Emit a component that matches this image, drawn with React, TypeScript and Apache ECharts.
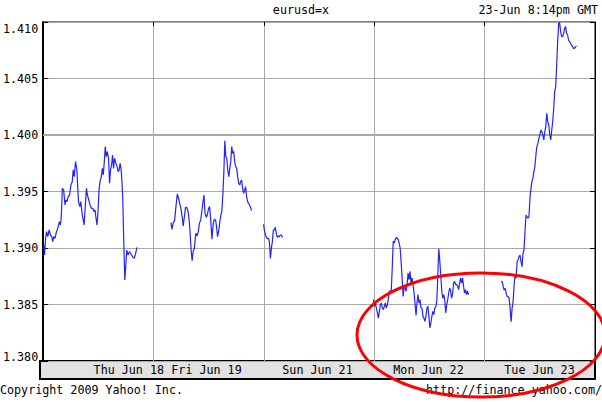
import React, { useEffect, useRef } from "react";
import * as echarts from "echarts";

// hours since start of chart (Thu 00:00 of plotted span), 24h per grid column
const thuHours = [0.14,0.29,0.57,0.72,1.00,1.29,1.58,1.87,2.08,2.30,2.58,2.80,3.16,3.52,3.73,3.88,4.02,4.16,4.45,4.74,4.95,5.17,5.46,5.74,6.03,6.32,6.53,6.75,7.04,7.33,7.47,7.68,7.97,8.19,8.40,8.69,8.90,9.12,9.41,9.62,9.91,10.20,10.48,10.77,11.06,11.27,11.49,11.70,11.92,12.14,12.35,12.64,12.85,13.07,13.29,13.50,13.72,13.93,14.22,14.43,14.65,14.87,15.08,15.30,15.51,15.80,16.09,16.30,16.52,16.73,16.95,17.16,17.31,17.52,17.74,17.95,18.17,18.46,18.74,18.96,19.25,19.53,19.82,20.11,20.40];
const thuRates = [1.39027,1.38938,1.39100,1.39145,1.39100,1.39160,1.39115,1.39100,1.39056,1.39100,1.39086,1.39130,1.39174,1.39233,1.39204,1.39248,1.39351,1.39528,1.39514,1.39381,1.39425,1.39410,1.39455,1.39469,1.39558,1.39587,1.39691,1.39632,1.39764,1.39691,1.39573,1.39410,1.39366,1.39410,1.39322,1.39248,1.39204,1.39351,1.39528,1.39469,1.39425,1.39381,1.39351,1.39351,1.39322,1.39337,1.39263,1.39204,1.39322,1.39514,1.39587,1.39632,1.39705,1.39646,1.39764,1.39897,1.39808,1.39853,1.39794,1.39573,1.39691,1.39735,1.39823,1.39705,1.39794,1.39750,1.39720,1.39676,1.39691,1.39750,1.39691,1.39573,1.39425,1.39071,1.38717,1.38835,1.38982,1.38938,1.38968,1.38953,1.38938,1.38918,1.38909,1.38953,1.39006];

const friHours = [27.79,28.01,28.29,28.58,28.87,29.16,29.44,29.73,29.95,30.23,30.45,30.66,30.95,31.24,31.53,31.74,31.96,32.17,32.39,32.60,32.89,33.18,33.47,33.75,33.97,34.26,34.54,34.76,34.97,35.19,35.48,35.69,35.98,36.19,36.41,36.70,36.98,37.20,37.49,37.70,37.92,38.20,38.42,38.64,38.85,39.07,39.28,39.50,39.71,39.93,40.14,40.36,40.57,40.79,41.00,41.22,41.44,41.65,41.87,42.08,42.30,42.51,42.73,42.94,43.16,43.37,43.59,43.81,44.02,44.24,44.45,44.67,44.88,45.10,45.31];
const friRates = [1.39224,1.39165,1.39224,1.39242,1.39366,1.39478,1.39439,1.39389,1.39351,1.39271,1.39195,1.39262,1.39360,1.39357,1.39321,1.39248,1.39130,1.38982,1.38888,1.38968,1.38997,1.39130,1.39106,1.39145,1.39218,1.39248,1.39336,1.39410,1.39469,1.39307,1.39271,1.39292,1.39351,1.39366,1.39262,1.39077,1.39218,1.39254,1.39248,1.39189,1.39100,1.39159,1.39233,1.39292,1.39321,1.39469,1.39661,1.39950,1.39808,1.39793,1.39690,1.39631,1.39705,1.39764,1.39897,1.39838,1.39853,1.39764,1.39720,1.39705,1.39631,1.39572,1.39557,1.39587,1.39602,1.39528,1.39484,1.39513,1.39543,1.39454,1.39410,1.39395,1.39380,1.39360,1.39330];

const sunHours = [47.90,48.11,48.40,48.69,48.98,49.19,49.41,49.62,49.84,50.05,50.27,50.48,50.70,50.92,51.13,51.35,51.56,51.78,52.06];
const sunRates = [1.39209,1.39159,1.39106,1.39085,1.39085,1.39056,1.38908,1.38997,1.39056,1.39159,1.39159,1.39183,1.39130,1.39094,1.39106,1.39100,1.39115,1.39115,1.39094];

const monHours = [71.81,72.03,72.24,72.46,72.68,72.89,73.11,73.32,73.54,73.75,73.97,74.18,74.40,74.61,74.83,75.04,75.26,75.48,75.69,75.91,76.12,76.34,76.55,76.77,76.98,77.20,77.41,77.63,77.85,78.06,78.28,78.49,78.71,78.92,79.14,79.35,79.57,79.78,80.00,80.22,80.43,80.65,80.86,81.08,81.29,81.51,81.72,81.94,82.15,82.37,82.59,82.80,83.02,83.23,83.45,83.66,83.88,84.09,84.31,84.52,84.74,84.95,85.17,85.39,85.60,85.82,86.03,86.25,86.46,86.68,86.89,87.11,87.32,87.54,87.76,87.97,88.19,88.40,88.62,88.83,89.05,89.26,89.48,89.69,89.91,90.13,90.34,90.56,90.77,90.99,91.20,91.42,91.63,91.85,92.06,92.28,92.50];
const monRates = [1.38543,1.38484,1.38513,1.38469,1.38425,1.38380,1.38439,1.38498,1.38513,1.38469,1.38454,1.38484,1.38513,1.38469,1.38493,1.38543,1.38617,1.38622,1.38617,1.38823,1.39059,1.39044,1.39074,1.39094,1.39089,1.39074,1.39044,1.39000,1.38867,1.38735,1.38572,1.38661,1.38646,1.38617,1.38676,1.38779,1.38720,1.38794,1.38690,1.38735,1.38676,1.38602,1.38513,1.38404,1.38513,1.38587,1.38513,1.38543,1.38469,1.38469,1.38395,1.38380,1.38351,1.38395,1.38469,1.38484,1.38395,1.38292,1.38336,1.38395,1.38439,1.38410,1.38469,1.38484,1.38528,1.38764,1.38994,1.38882,1.38764,1.38617,1.38557,1.38587,1.38543,1.38425,1.38498,1.38543,1.38602,1.38646,1.38617,1.38557,1.38602,1.38690,1.38705,1.38676,1.38676,1.38661,1.38631,1.38690,1.38735,1.38690,1.38735,1.38661,1.38602,1.38631,1.38587,1.38617,1.38587];

const tueHours = [99.60,99.82,100.04,100.25,100.47,100.68,100.90,101.11,101.33,101.54,101.76,101.97,102.19,102.41,102.62,102.84,103.05,103.27,103.48,103.70,103.91,104.13,104.34,104.56,104.78,104.99,105.21,105.42,105.64,105.85,106.07,106.28,106.50,106.71,106.93,107.15,107.36,107.58,107.79,108.01,108.22,108.44,108.65,108.87,109.08,109.30,109.51,109.73,109.95,110.16,110.38,110.59,110.81,111.02,111.24,111.45,111.67,111.88,112.10,112.31,112.53,112.75,112.96,113.18,113.39,113.61,113.82,114.04,114.25,114.47,114.68,114.90,115.12,115.33,115.55,115.76,115.98];
const tueRates = [1.38702,1.38702,1.38658,1.38628,1.38643,1.38599,1.38569,1.38569,1.38554,1.38466,1.38348,1.38466,1.38525,1.38673,1.38761,1.38732,1.38879,1.38894,1.38923,1.38938,1.38879,1.38835,1.38953,1.38982,1.39145,1.39292,1.39277,1.39263,1.39277,1.39440,1.39528,1.39587,1.39617,1.39676,1.39720,1.39823,1.39897,1.39926,1.39970,1.40000,1.40044,1.40030,1.40000,1.39956,1.40030,1.40074,1.40192,1.40118,1.40088,1.40000,1.39956,1.40044,1.40118,1.40236,1.40383,1.40428,1.40619,1.40826,1.40988,1.40995,1.40914,1.40870,1.40870,1.40900,1.40944,1.40959,1.40900,1.40885,1.40841,1.40826,1.40811,1.40796,1.40782,1.40767,1.40767,1.40782,1.40788];

const dayLabels = ["Thu Jun 18", "Fri Jun 19", "Sun Jun 21", "Mon Jun 22", "Tue Jun 23"];
const dayLabelHours = [19.2, 36, 60, 84, 108];
const heavyGridRates = [1.4, 1.395];

const FONT = "DejaVu Sans Mono";
const FS = 11.7;

function pairs(h: number[], r: number[]) {
  const n = Math.min(h.length, r.length);
  const out: number[][] = [];
  for (let i = 0; i < n; i++) out.push([h[i], r[i]]);
  return out;
}

export default function App() {
  const ref = useRef<HTMLDivElement>(null);
  useEffect(() => {
    if (!ref.current) return;
    const chart = echarts.init(ref.current, undefined, { renderer: "svg" });
    const segs = [
      pairs(thuHours, thuRates),
      pairs(friHours, friRates),
      pairs(sunHours, sunRates),
      pairs(monHours, monRates),
      pairs(tueHours, tueRates),
    ];
    const lineSeries = segs.map((d) => ({
      type: "line",
      xAxisIndex: 0,
      yAxisIndex: 0,
      data: d,
      showSymbol: false,
      symbol: "none",
      lineStyle: { color: "#2323ff", width: 1.2 },
      z: 5,
    }));
    const gray = "#a9a9a9";
    chart.setOption({
      animation: false,
      backgroundColor: "#ffffff",
      textStyle: { fontFamily: FONT },
      grid: [
        { left: 40, right: 7, top: 22, bottom: 41, show: true, borderColor: "#000", borderWidth: 1, backgroundColor: "#fff" },
        { left: 40, right: 7, top: 361, height: 18, show: true, borderColor: "#000", borderWidth: 2, backgroundColor: "#e2e2e2" },
      ],
      xAxis: [
        {
          type: "value", gridIndex: 0, min: 0, max: 120, interval: 24, position: "top",
          axisLine: { show: false },
          axisTick: { show: true, inside: true, length: 4, lineStyle: { color: "#000" } },
          axisLabel: { show: false },
          splitLine: { show: true, lineStyle: { color: gray, width: 1 } },
        },
        {
          type: "value", gridIndex: 1, min: 0, max: 120, interval: 1.2, position: "bottom",
          axisLine: { show: false }, axisTick: { show: false }, splitLine: { show: false },
          axisLabel: {
            show: true, inside: true, margin: 3, color: "#000", fontFamily: FONT, fontSize: FS,
            showMinLabel: true, showMaxLabel: true,
            formatter: (v: number) => {
              const k = Math.round(v / 1.2);
              const i = dayLabelHours.findIndex((h) => Math.round(h / 1.2) === k);
              return i >= 0 ? dayLabels[i] : "";
            },
          },
        },
      ],
      yAxis: [
        {
          type: "value", gridIndex: 0, min: 1.38, max: 1.41, interval: 0.005, position: "left",
          axisLine: { show: true, lineStyle: { color: "#000", width: 2 } },
          axisTick: { show: true, inside: true, length: 5, lineStyle: { color: "#000" } },
          splitLine: { show: true, lineStyle: { color: gray, width: 1 } },
          axisLabel: {
            margin: 5, color: "#000", fontFamily: FONT, fontSize: FS,
            formatter: (v: number) => {
              const s = v.toFixed(3);
              if (Math.abs(v - 1.41) < 1e-6) return "{top|" + s + "}";
              if (Math.abs(v - 1.38) < 1e-6) return "{bot|" + s + "}";
              return s;
            },
            rich: {
              top: { padding: [14, 0, 0, 0], fontFamily: FONT, fontSize: FS, color: "#000" },
              bot: { padding: [0, 0, 8, 0], fontFamily: FONT, fontSize: FS, color: "#000" },
            },
          },
        },
        {
          type: "value", gridIndex: 0, min: 1.38, max: 1.41, interval: 0.005, position: "right",
          axisLine: { show: true, lineStyle: { color: "#000", width: 1 } },
          axisTick: { show: true, inside: true, length: 5, lineStyle: { color: "#000" } },
          splitLine: { show: false }, axisLabel: { show: false },
        },
        { type: "value", gridIndex: 1, show: false },
      ],
      series: [
        {
          type: "line", xAxisIndex: 0, yAxisIndex: 0, data: [], z: 1, silent: true,
          markLine: {
            silent: true, symbol: "none", label: { show: false },
            lineStyle: { color: gray, width: 2, type: "solid" },
            data: heavyGridRates.map((r) => ({ yAxis: r })),
          },
        },
        ...lineSeries,
      ],
      graphic: [
        { type: "text", left: "center", top: 4, style: { text: "eurusd=x", font: `${FS}px '${FONT}'`, fill: "#000" } },
        { type: "text", right: 4, top: 4, style: { text: "23-Jun 8:14pm GMT", font: `${FS}px '${FONT}'`, fill: "#000" } },
        { type: "text", left: 0, top: 384, style: { text: "Copyright 2009 Yahoo! Inc.", font: `${FS}px '${FONT}'`, fill: "#000" } },
        { type: "text", right: 0, top: 384, style: { text: "http://finance.yahoo.com/", font: `${FS}px '${FONT}'`, fill: "#000" } },
        {
          type: "ellipse", z: 100,
          shape: { cx: 481, cy: 335, rx: 124, ry: 62 },
          style: { fill: "none", stroke: "#ff0000", lineWidth: 3 },
        },
      ],
    });
    return () => chart.dispose();
  }, []);
  return (
    <div
      ref={ref}
      style={{ position: "absolute", left: 0, top: 0, width: 602, height: 402, background: "#fff" }}
    />
  );
}
